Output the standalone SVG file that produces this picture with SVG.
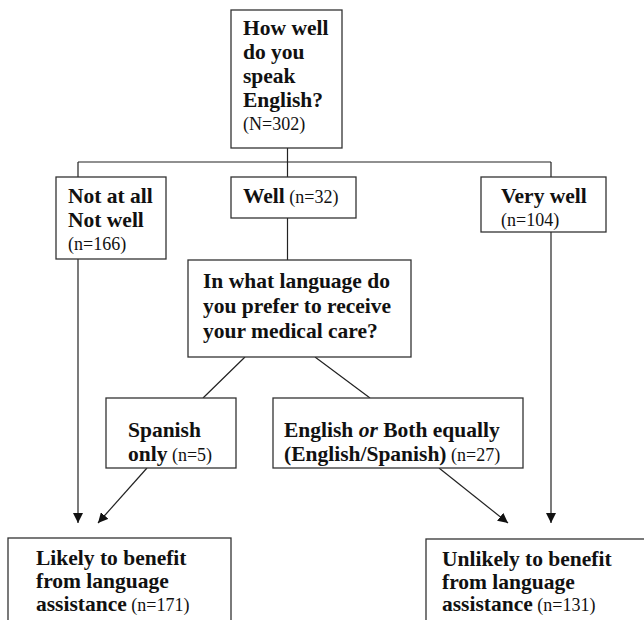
<svg xmlns="http://www.w3.org/2000/svg" width="644" height="620" viewBox="0 0 644 620">
<style>
.box{fill:#fff;stroke:#333;stroke-width:1.3}
.ln{fill:none;stroke:#222;stroke-width:1.2}
text{font-family:"Liberation Serif","Times New Roman",serif;fill:#111}
.b{font-weight:bold;font-size:21.5px}
.r{font-weight:normal;font-size:18px}
</style>
<defs>
<marker id="ah" viewBox="0 0 10 10" refX="10" refY="5" markerWidth="10" markerHeight="10" markerUnits="userSpaceOnUse" orient="auto">
<path d="M0,0 L10,5 L0,10 Z" fill="#111"/>
</marker>
</defs>
<rect width="644" height="620" fill="#fff"/>
<g id="connectors">
<path class="ln" d="M287.5,148 V162 M78,162 H551 M78,162 V177 M287.5,162 V177 M551,162 V177"/>
<path class="ln" d="M287.5,218 V260"/>
<path class="ln" d="M245,357 L203,398 M315,357 L370,398"/>
<path class="ln" d="M78,259 V523" marker-end="url(#ah)"/>
<path class="ln" d="M147,468 L98,523" marker-end="url(#ah)"/>
<path class="ln" d="M439,468 L508,523" marker-end="url(#ah)"/>
<path class="ln" d="M551,232 V523" marker-end="url(#ah)"/>
</g>
<g id="n-top">
<rect class="box" x="231" y="10" width="111" height="138"/>
<text x="243" y="35" class="b">How well</text>
<text x="243" y="59" class="b">do you</text>
<text x="243" y="83" class="b">speak</text>
<text x="243" y="107" class="b">English?</text>
<text x="243" y="130" class="r">(N=302)</text>
</g>
<g id="n-notwell">
<rect class="box" x="56" y="177" width="110" height="82"/>
<text x="68" y="203" class="b">Not at all</text>
<text x="68" y="227" class="b">Not well</text>
<text x="68" y="250" class="r">(n=166)</text>
</g>
<g id="n-well">
<rect class="box" x="231" y="177" width="125" height="41"/>
<text x="243" y="203"><tspan class="b">Well</tspan><tspan class="r"> (n=32)</tspan></text>
</g>
<g id="n-verywell">
<rect class="box" x="481" y="177" width="125" height="55"/>
<text x="501" y="203" class="b">Very well</text>
<text x="501" y="226" class="r">(n=104)</text>
</g>
<g id="n-question">
<rect class="box" x="188" y="260" width="223" height="97"/>
<text x="203" y="288" class="b">In what language do</text>
<text x="203" y="313" class="b">you prefer to receive</text>
<text x="203" y="338" class="b">your medical care?</text>
</g>
<g id="n-spanish">
<rect class="box" x="106" y="398" width="130" height="70"/>
<text x="128" y="437" class="b">Spanish</text>
<text x="128" y="461"><tspan class="b">only</tspan><tspan class="r"> (n=5)</tspan></text>
</g>
<g id="n-english">
<rect class="box" x="273" y="398" width="250" height="70"/>
<text x="284" y="437" class="b">English <tspan font-style="italic">or</tspan> Both equally</text>
<text x="284" y="461"><tspan class="b">(English/Spanish)</tspan><tspan class="r"> (n=27)</tspan></text>
</g>
<g id="n-likely">
<rect class="box" x="8" y="538" width="223" height="100"/>
<text x="36" y="565" class="b">Likely to benefit</text>
<text x="36" y="588" class="b">from language</text>
<text x="36" y="611"><tspan class="b">assistance</tspan><tspan class="r"> (n=171)</tspan></text>
</g>
<g id="n-unlikely">
<rect class="box" x="426" y="539" width="240" height="100"/>
<text x="442" y="566" class="b">Unlikely to benefit</text>
<text x="442" y="589" class="b">from language</text>
<text x="442" y="611"><tspan class="b">assistance</tspan><tspan class="r"> (n=131)</tspan></text>
</g>
</svg>
